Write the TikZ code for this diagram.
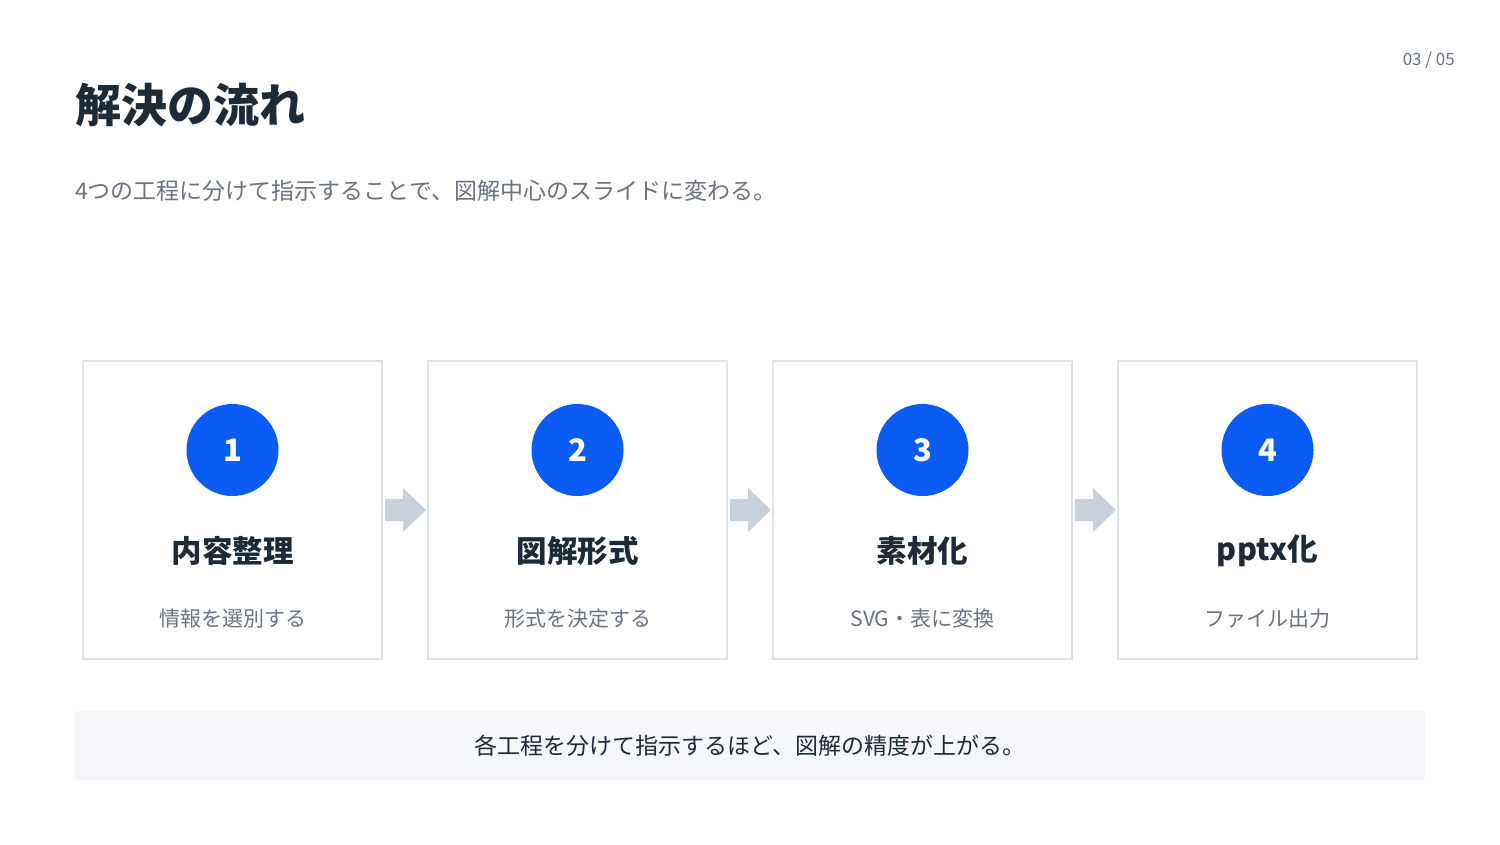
\documentclass[tikz,border=0pt]{standalone}
\usepackage{fontspec}
\setmainfont{Noto Sans CJK JP}
\usetikzlibrary{positioning}
\definecolor{ink}{HTML}{1F2A37}
\definecolor{sub}{HTML}{6B7280}
\definecolor{cardline}{HTML}{DDE3EA}
\definecolor{blue}{HTML}{0A5CF5}
\definecolor{arrowc}{HTML}{C8D0DB}
\definecolor{band}{HTML}{F5F7FA}
\newcommand{\fs}[1]{\fontsize{#1}{#1}\selectfont}
\tikzset{
  card/.style={draw=cardline, line width=2pt, fill=white, minimum width=299pt, minimum height=298pt, inner sep=0pt},
  numcirc/.style={circle, fill=blue, minimum size=92pt, inner sep=0pt, text=white, font=\fs{31}\bfseries},
  head/.style={text=ink, font=\fs{30.5}\bfseries, inner sep=0pt, anchor=center},
  desc/.style={text=sub, font=\fs{21}, inner sep=0pt, anchor=center},
  flowarrow/.style={fill=arrowc, draw=none}
}
\begin{document}
\begin{tikzpicture}[x=1pt,y=-1pt]
\useasboundingbox (0,0) rectangle (1500,844);
\fill[white] (0,0) rectangle (1500,844);
\node[anchor=west, text=ink, font=\fs{46}\bfseries, inner sep=0pt] (title) at (75,105) {解決の流れ};
\node[anchor=west, text=sub, font=\fs{23}, inner sep=0pt] (subtitle) at (75,191) {4つの工程に分けて指示することで、図解中心のスライドに変わる。};
\node[anchor=east, text=sub, font=\fs{17}, inner sep=0pt] (page) at (1455,60) {03 / 05};

\foreach \i/\cx/\h/\d in {1/232.5/内容整理/情報を選別する, 2/577.5/図解形式/形式を決定する, 3/922.5/素材化/SVG・表に変換, 4/1267.5/pptx化/ファイル出力}{
  \node[card] (card\i) at (\cx,510) {};
  \node[numcirc] (num\i) at (\cx,450) {\i};
  \node[head] (head\i) at (\cx,551) {\h};
  \node[desc] (desc\i) at (\cx,619) {\d};
}
\foreach \a/\b in {1/2,2/3,3/4}{
  \fill[flowarrow] ([xshift=2pt,yshift=-11pt]card\a.east) -- ([xshift=20pt,yshift=-11pt]card\a.east) -- ([xshift=20pt,yshift=-22pt]card\a.east) -- ([xshift=-1pt]card\b.west) -- ([xshift=20pt,yshift=22pt]card\a.east) -- ([xshift=20pt,yshift=11pt]card\a.east) -- ([xshift=2pt,yshift=11pt]card\a.east) -- cycle;
}
\node[fill=band, minimum width=1350pt, minimum height=69pt, inner sep=0pt, text=ink, font=\fs{23}] (note) at (750,745.5) {各工程を分けて指示するほど、図解の精度が上がる。};
\end{tikzpicture}
\end{document}
